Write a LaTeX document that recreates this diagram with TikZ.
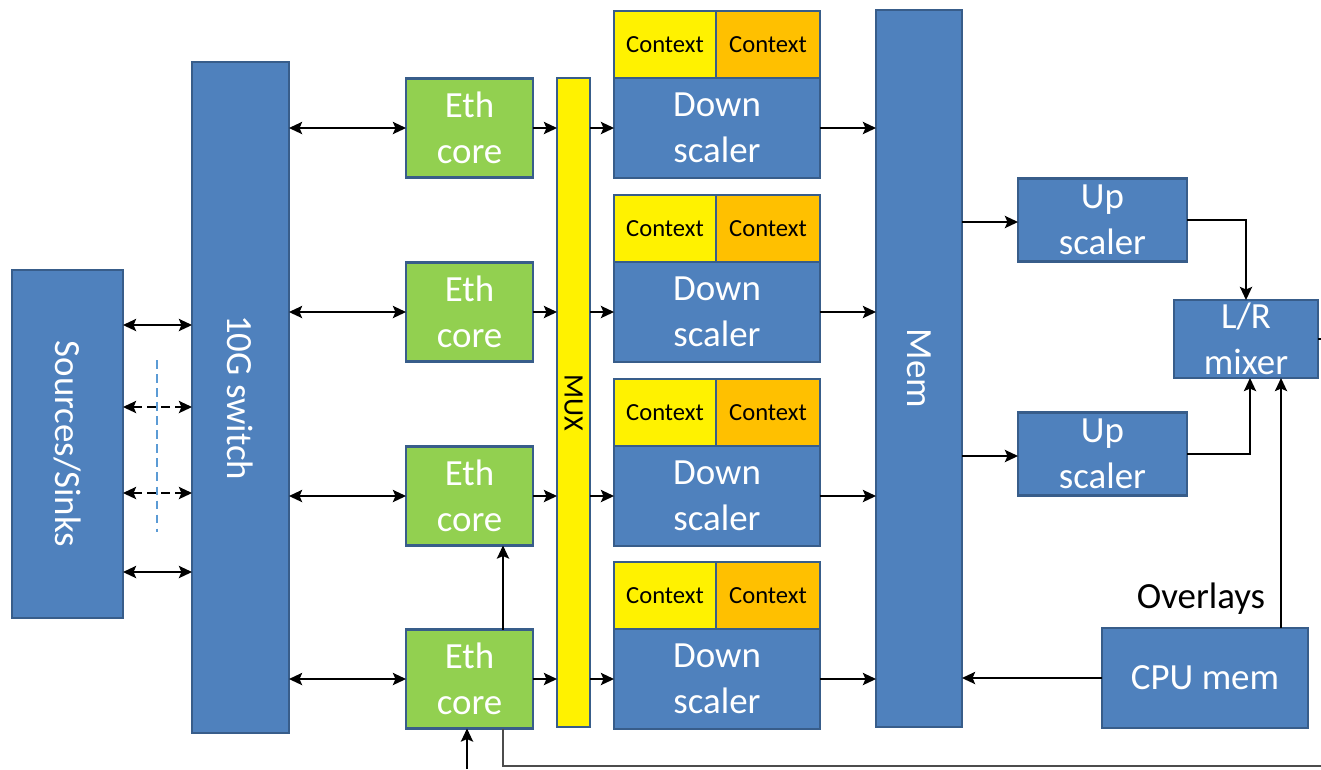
\documentclass[tikz,border=0pt]{standalone}
\usepackage{fontspec}
\usepackage{graphicx}
\setmainfont{Carlito}
\usetikzlibrary{positioning, arrows.meta}

\definecolor{boxblue}{HTML}{4F81BD}
\definecolor{boxline}{HTML}{385D8A}
\definecolor{ethgreen}{HTML}{92D050}
\definecolor{ctxorange}{HTML}{FFC000}
\definecolor{dashblue}{HTML}{5B9BD5}

\tikzset{
  blk/.style = {draw=boxline, line width=1.5pt, inner sep=0pt, outer sep=0pt,
                text=white, align=center, font=\fontsize{21}{26}\selectfont},
  blue box/.style = {blk, fill=boxblue},
  eth box/.style = {blk, fill=ethgreen, minimum width=2.54cm, minimum height=1.98cm},
  down box/.style = {blue box, minimum width=4.12cm, minimum height=2cm},
  ctx box/.style = {blk, text=black, minimum height=1.34cm, font=\fontsize{14}{16}\selectfont},
  up box/.style = {blue box, minimum width=3.38cm, minimum height=1.66cm},
  wire/.style = {line width=0.9pt}
}

\begin{document}
\begin{tikzpicture}[x=0.02cm, y=-0.02cm, >={Stealth[length=7.5pt, width=7pt, inset=1.5pt]}]
            \useasboundingbox (0,0) rectangle (1321,769);

            % blocks
            \node[blue box, minimum width=2.22cm, minimum height=6.96cm] (src) at (67.5,444) {\rotatebox{-90}{Sources/Sinks}};
            \node[blue box, minimum width=1.94cm, minimum height=13.42cm] (sw) at (240.5,397.5) {\rotatebox{-90}{10G switch}};

            \node[eth box] (eth1) at (469.5,128) {Eth\\core};
            \node[eth box] (eth2) at (469.5,312) {Eth\\core};
            \node[eth box] (eth3) at (469.5,496) {Eth\\core};
            \node[eth box] (eth4) at (469.5,679) {Eth\\core};

            \node[blk, fill=yellow, text=black, minimum width=0.66cm, minimum height=12.98cm,
                  font=\fontsize{16}{18}\selectfont] (mux) at (573.5,402.5) {\rotatebox{-90}{MUX}};

            \node[down box] (down1) at (717,128) {Down\\scaler};
            \node[down box] (down2) at (717,312) {Down\\scaler};
            \node[down box] (down3) at (717,496) {Down\\scaler};
            \node[down box] (down4) at (717,679) {Down\\scaler};

            \node[ctx box, fill=yellow, minimum width=2.04cm, above right=0pt and 0pt of down1.north west] (ctxa1) {Context};
            \node[ctx box, fill=ctxorange, minimum width=2.08cm, above left=0pt and 0pt of down1.north east] (ctxb1) {Context};
            \node[ctx box, fill=yellow, minimum width=2.04cm, above right=0pt and 0pt of down2.north west] (ctxa2) {Context};
            \node[ctx box, fill=ctxorange, minimum width=2.08cm, above left=0pt and 0pt of down2.north east] (ctxb2) {Context};
            \node[ctx box, fill=yellow, minimum width=2.04cm, above right=0pt and 0pt of down3.north west] (ctxa3) {Context};
            \node[ctx box, fill=ctxorange, minimum width=2.08cm, above left=0pt and 0pt of down3.north east] (ctxb3) {Context};
            \node[ctx box, fill=yellow, minimum width=2.04cm, above right=0pt and 0pt of down4.north west] (ctxa4) {Context};
            \node[ctx box, fill=ctxorange, minimum width=2.08cm, above left=0pt and 0pt of down4.north east] (ctxb4) {Context};

            \node[blue box, minimum width=1.72cm, minimum height=14.34cm] (mem) at (919,368.5) {\rotatebox{-90}{Mem}};

            \node[up box] (up1) at (1102.5,220) {Up\\scaler};
            \node[up box] (up2) at (1102.5,454) {Up\\scaler};
            \node[blue box, minimum width=2.88cm, minimum height=1.56cm] (mix) at (1246,339) {L/R\\mixer};
            \node[blue box, minimum width=4.12cm, minimum height=2cm] (cpu) at (1205,678) {CPU mem};
            \node[font=\fontsize{21}{26}\selectfont, anchor=base] (ovl) at (1201,608) {Overlays};

            \coordinate (ret) at (1321,766);
            \coordinate (inp) at (467,769);
            \coordinate (mixout) at (1321,339);

            % links to the switch
            \draw[wire, <->] (src.east |- 0,325) -- (sw.west |- 0,325);
            \draw[wire, <->, dash pattern=on 5pt off 3pt] (src.east |- 0,407) -- (sw.west |- 0,407);
            \draw[wire, <->, dash pattern=on 5pt off 3pt] (src.east |- 0,493) -- (sw.west |- 0,493);
            \draw[wire, <->] (src.east |- 0,572) -- (sw.west |- 0,572);
            \draw[dashblue, line width=0.7pt, dash pattern=on 5pt off 3pt] (157,360) -- (157,532);

            \path[wire, <->]
              (sw.east |- eth1) edge (eth1.west)
              (sw.east |- eth2) edge (eth2.west)
              (sw.east |- eth3) edge (eth3.west)
              (sw.east |- eth4) edge (eth4.west)
            ;

            \path[wire, ->]
              (eth1.east) edge (mux.west |- eth1)
              (eth2.east) edge (mux.west |- eth2)
              (eth3.east) edge (mux.west |- eth3)
              (eth4.east) edge (mux.west |- eth4)
              (mux.east |- down1) edge (down1.west)
              (mux.east |- down2) edge (down2.west)
              (mux.east |- down3) edge (down3.west)
              (mux.east |- down4) edge (down4.west)
              (down1.east) edge (mem.west |- down1)
              (down2.east) edge (mem.west |- down2)
              (down3.east) edge (mem.west |- down3)
              (down4.east) edge (mem.west |- down4)
              (mem.east |- 0,222) edge (up1.west |- 0,222)
              (mem.east |- 0,456) edge (up2.west |- 0,456)
              (cpu.west) edge (mem.east |- cpu)
              (cpu.north -| 1281,0) edge (mix.south -| 1281,0)
              (eth4.north -| 503,0) edge (eth3.south -| 503,0)
              (inp) edge (eth4.south -| inp)
            ;

            \draw[wire, ->] (up1.east) -| (mix.north);
            \draw[wire, ->] (up2.east) -| ([xshift=0.08cm]mix.south);
            \draw[wire] (mix.east) -- (mixout);
            \draw[wire, black!70] (eth4.south -| 503,0) |- (ret);
          \end{tikzpicture}
\end{document}
